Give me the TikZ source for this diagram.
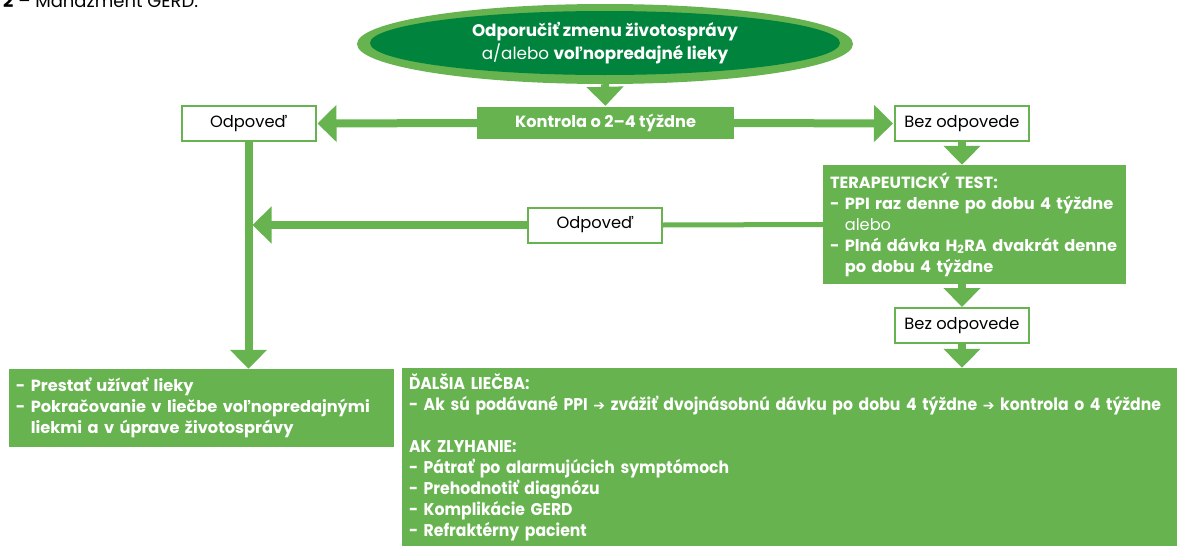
\documentclass[tikz,border=0pt]{standalone}
\usepackage{fontspec}
\setmainfont{Poppins}
\newfontfamily\condfont[FakeStretch=0.92]{Poppins}
\newfontfamily\symfont{DejaVu Sans}
\usetikzlibrary{arrows.meta,shapes.geometric}
\definecolor{lgreen}{RGB}{102,179,79}
\definecolor{dgreen}{RGB}{0,132,61}
\begin{document}
\begin{tikzpicture}[x=1pt,y=-1pt,
  gbox/.style={fill=lgreen, text=white, font=\bfseries\fontsize{16.2}{21}\selectfont, inner sep=0pt},
  wbox/.style={draw=lgreen, line width=2pt, fill=white, text=black, font=\fontsize{16.3}{18}\selectfont, inner sep=0pt, minimum width=134pt, minimum height=35pt},
  conn/.style={draw=lgreen, line width=8pt, -{Triangle[length=19pt,width=36pt]}},
  plainline/.style={draw=lgreen, line width=5pt}
]
\useasboundingbox (0,0) rectangle (1187,546);
% title (cut at top, as in the reference)
\node[anchor=base west, inner sep=0pt, font=\fontsize{18}{20}\selectfont] (title) at (3,8) {\textbf{2} – Manažment GERD.};
% ellipse
\node[ellipse, fill=lgreen, minimum width=496pt, minimum height=80pt, inner sep=0pt] (ellout) at (605,44) {};
\node[ellipse, fill=dgreen, minimum width=470pt, minimum height=64pt, inner sep=0pt, text=white, align=center, font=\fontsize{16.8}{23}\selectfont] (ell) at (605,43) {\textbf{Odporučiť zmenu životosprávy}\\a/alebo \textbf{voľnopredajné lieky}};
% boxes
\node[gbox, minimum width=257pt, minimum height=32pt] (kon) at (605.5,123) {Kontrola o 2–4 týždne};
\node[wbox] (odp1) at (248.5,123.5) {Odpoveď};
\node[wbox] (bez1) at (962,123.5) {Bez odpovede};
\node[gbox, minimum width=303pt, minimum height=119pt, text width=289pt, align=left] (tera) at (974.5,224.5)
  {TERAPEUTICKÝ TEST:\\
   - PPI raz denne po dobu 4 týždne\\
   \hphantom{- }{\mdseries alebo}\\
   - Plná dávka H\textsubscript{2}RA dvakrát denne\\
   \hphantom{- }po dobu 4 týždne};
\node[wbox] (odp2) at (595,225) {Odpoveď};
\node[wbox] (bez2) at (962,325.5) {Bez odpovede};
\node[gbox, minimum width=385pt, minimum height=78pt, text width=371pt, align=left] (left) at (201.5,408)
  {- Prestať užívať lieky\\
   - Pokračovanie v liečbe voľnopredajnými\\
   \hphantom{- }liekmi a v úprave životosprávy};
\node[gbox, minimum width=775pt, minimum height=178pt, text width=761pt, align=left, font=\condfont\bfseries\fontsize{17}{21}\selectfont] (dal) at (789.5,457)
  {ĎALŠIA LIEČBA:\\
   - Ak sú podávané PPI {\symfont\fontsize{14}{21}\selectfont ➔} zvážiť dvojnásobnú dávku po dobu 4 týždne {\symfont\fontsize{14}{21}\selectfont ➔} kontrola o 4 týždne\\[21pt]
   AK ZLYHANIE:\\
   - Pátrať po alarmujúcich symptómoch\\
   - Prehodnotiť diagnózu\\
   - Komplikácie GERD\\
   - Refraktérny pacient};
% connectors
\draw[conn, shorten >=1pt] (ellout.south) -- (kon.north);
\draw[conn, shorten >=1pt] (kon.west) -- (odp1.east);
\draw[conn, shorten >=1pt] (kon.east) -- (bez1.west);
\draw[conn] (odp1.south) -- (odp1.south |- left.north);
\draw[conn] (bez1.south) -- (bez1.south |- tera.north);
\draw[plainline] (tera.west) -- (odp2.east);
\coordinate (j) at (odp1.south |- odp2.west);
\draw[conn, shorten >=4pt] (odp2.west) -- (j);
\draw[conn] (bez2.north |- tera.south) -- (bez2.north);
\draw[conn] (bez2.south) -- (bez2.south |- dal.north);
\end{tikzpicture}
\end{document}
